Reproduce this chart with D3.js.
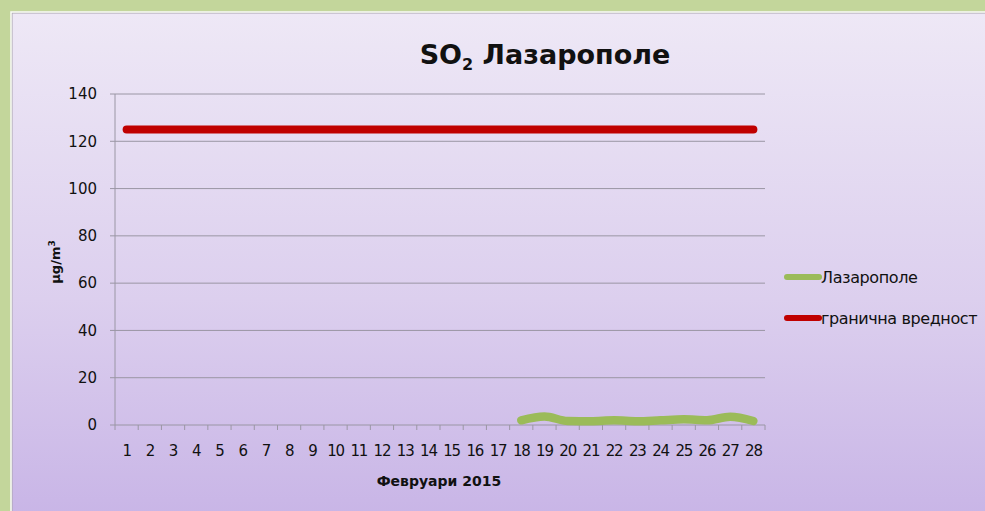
<!DOCTYPE html>
<html>
<head>
<meta charset="utf-8">
<script src="https://cdn.jsdelivr.net/npm/d3@7"></script>
<style>
  html, body { margin: 0; padding: 0; background: #c3d69b; }
  svg { display: block; }
  text { font-family: "DejaVu Sans", sans-serif; fill: #111; }
</style>
</head>
<body>
<svg id="chart" width="985" height="511"></svg>
<script>
// data
const days = d3.range(1, 29);
const stationDays = [18, 19, 20, 21, 22, 23, 24, 25, 26, 27, 28];
const stationValues = [2, 3.6, 1.7, 1.6, 2, 1.6, 2, 2.4, 2, 3.5, 1.7];
const limitValue = 125;
const yTicks = [0, 20, 40, 60, 80, 100, 120, 140];
const seriesNames = ["Лазарополе", "гранична вредност"];
const seriesColors = ["#9bbb59", "#c00000"];

const svg = d3.select("#chart");

// panel background
const defs = svg.append("defs");
const grad = defs.append("linearGradient")
  .attr("id", "bg").attr("x1", 0).attr("y1", 0).attr("x2", 0).attr("y2", 1);
grad.append("stop").attr("offset", "0%").attr("stop-color", "#eee8f6");
grad.append("stop").attr("offset", "55%").attr("stop-color", "#dccfee");
grad.append("stop").attr("offset", "100%").attr("stop-color", "#c7b3e6");

svg.append("rect")
  .attr("x", 12).attr("y", 13).attr("width", 985).attr("height", 520)
  .attr("fill", "url(#bg)")
  .attr("stroke", "#a8a2ae").attr("stroke-width", 1);
svg.append("path")
  .attr("d", "M11,520V12H985")
  .attr("fill", "none")
  .attr("stroke", "#fafafa").attr("stroke-width", 1.5);

const margin = {left: 115, right: 765, top: 94, bottom: 425};

const x = d3.scaleBand()
  .domain(days)
  .range([margin.left, margin.right]);

const y = d3.scaleLinear()
  .domain([0, 140])
  .range([margin.bottom, margin.top]);

// gridlines
svg.append("g")
  .selectAll("line")
  .data(yTicks)
  .enter()
  .append("line")
  .attr("x1", margin.left - 5)
  .attr("x2", margin.right)
  .attr("y1", d => y(d))
  .attr("y2", d => y(d))
  .attr("stroke", "#9a96a4")
  .attr("stroke-width", 1);

// y axis line
svg.append("line")
  .attr("x1", margin.left).attr("x2", margin.left)
  .attr("y1", margin.top).attr("y2", margin.bottom)
  .attr("stroke", "#9a96a4");

// y tick labels
svg.append("g")
  .selectAll("text")
  .data(yTicks)
  .enter()
  .append("text")
  .attr("x", 97)
  .attr("y", d => y(d))
  .attr("dy", "0.35em")
  .attr("text-anchor", "end")
  .style("font-size", "15px")
  .text(d => d);

// x ticks at category boundaries
const boundaries = days.map(d => x(d)).concat([margin.right]);
svg.append("g")
  .selectAll("line")
  .data(boundaries)
  .enter()
  .append("line")
  .attr("x1", d => d).attr("x2", d => d)
  .attr("y1", margin.bottom).attr("y2", margin.bottom + 5)
  .attr("stroke", "#9a96a4");

// x labels
svg.append("g")
  .selectAll("text")
  .data(days)
  .enter()
  .append("text")
  .attr("x", d => x(d) + x.bandwidth() / 2)
  .attr("y", 456)
  .attr("text-anchor", "middle")
  .style("font-size", "15px")
  .style("letter-spacing", "-1.2px")
  .text(d => d);

// axis titles
svg.append("text")
  .attr("x", 439).attr("y", 486)
  .attr("text-anchor", "middle")
  .style("font-size", "14px")
  .style("font-weight", "bold")
  .text("Февруари 2015");

const yTitle = svg.append("text")
  .attr("transform", "translate(60,262) rotate(-90)")
  .attr("text-anchor", "middle")
  .style("font-size", "13px")
  .style("font-weight", "bold");
yTitle.append("tspan").text("µg/m");
yTitle.append("tspan").attr("dy", "-5").style("font-size", "9px").text("3");

// title
const title = svg.append("text")
  .attr("x", 545).attr("y", 64)
  .attr("text-anchor", "middle")
  .style("font-size", "27px")
  .style("font-weight", "bold");
title.append("tspan").text("SO");
title.append("tspan").attr("dy", "6").style("font-size", "16px").text("2");
title.append("tspan").attr("dy", "-6").text(" Лазарополе");

// series
const line = d3.line()
  .x(d => x(d[0]) + x.bandwidth() / 2)
  .y(d => y(d[1]))
  .curve(d3.curveMonotoneX);

svg.append("path")
  .datum(days.map(d => [d, limitValue]))
  .attr("d", line)
  .attr("fill", "none")
  .attr("stroke", seriesColors[1])
  .attr("stroke-width", 8)
  .attr("stroke-linecap", "round");

svg.append("path")
  .datum(stationDays.map((d, i) => [d, stationValues[i]]))
  .attr("d", line)
  .attr("fill", "none")
  .attr("stroke", seriesColors[0])
  .attr("stroke-width", 8.5)
  .attr("stroke-linecap", "round")
  .attr("stroke-linejoin", "round");

// legend
const legend = svg.append("g")
  .selectAll("g")
  .data(seriesNames)
  .enter()
  .append("g")
  .attr("transform", (d, i) => `translate(0,${277 + i * 41})`);

legend.append("line")
  .attr("x1", 787).attr("x2", 819)
  .attr("y1", 0).attr("y2", 0)
  .attr("stroke", (d, i) => seriesColors[i])
  .attr("stroke-width", 6)
  .attr("stroke-linecap", "round");

legend.append("text")
  .attr("x", 821)
  .attr("y", 0)
  .attr("dy", "0.35em")
  .style("font-size", "16px")
  .style("letter-spacing", "-0.4px")
  .text(d => d);
</script>
</body>
</html>
